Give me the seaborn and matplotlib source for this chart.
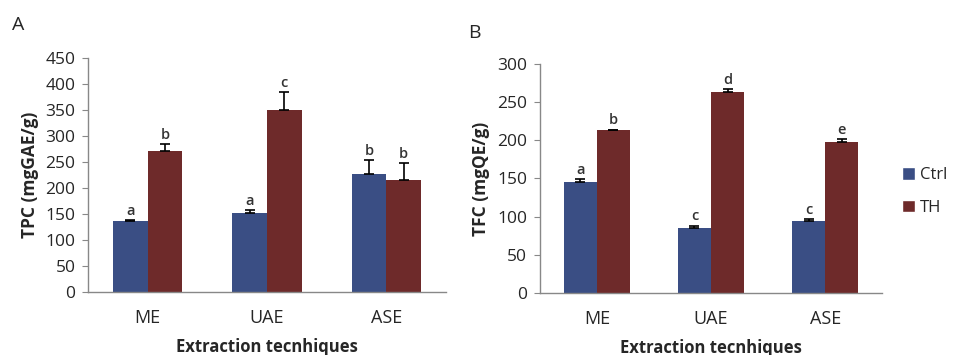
import pandas as pd
import matplotlib.pyplot as plt
import seaborn as sns
from matplotlib.patches import Patch

techniques = ["ME", "UAE", "ASE"]
groups = ["Ctrl", "TH"]

tpc_ctrl = [137, 153, 226]
tpc_th = [271, 350, 216]
tpc_ctrl_err = [1, 5, 28]
tpc_th_err = [13, 34, 32]
tpc_ctrl_letters = ["a", "a", "b"]
tpc_th_letters = ["b", "c", "b"]

tfc_ctrl = [145, 85, 94]
tfc_th = [213, 263, 198]
tfc_ctrl_err = [4, 3, 3]
tfc_th_err = [1, 4, 3]
tfc_ctrl_letters = ["a", "c", "c"]
tfc_th_letters = ["b", "d", "e"]

colors = {"Ctrl": "#3A4E84", "TH": "#6E2A2A"}

sns.set_style("white")
plt.rcParams['font.family'] = ['Open Sans', 'DejaVu Sans']


def make_df(ctrl, th, ctrl_err, th_err, ctrl_lab, th_lab):
    rows = []
    for i, t in enumerate(techniques):
        rows.append((t, "Ctrl", ctrl[i], ctrl_err[i], ctrl_lab[i]))
        rows.append((t, "TH", th[i], th_err[i], th_lab[i]))
    return pd.DataFrame(rows, columns=["technique", "group", "value", "err", "letter"])


def draw(ax, df, ymax, step, ylabel, pad):
    sns.barplot(data=df, x="technique", y="value", hue="group", order=techniques,
                hue_order=groups, palette=colors, width=0.58, errorbar=None,
                saturation=1, linewidth=0, ax=ax, legend=False, zorder=2)
    for cont, g in zip(ax.containers, groups):
        sub = df[df["group"] == g].set_index("technique").loc[techniques]
        xs = [b.get_x() + b.get_width() / 2 for b in cont]
        ax.errorbar(xs, sub["value"], yerr=[[0] * len(xs), sub["err"]], fmt="none",
                    ecolor="black", elinewidth=1.2, capsize=3.5, capthick=1.2, zorder=3)
        for x, v, e, l in zip(xs, sub["value"], sub["err"], sub["letter"]):
            ax.text(x, v + e + pad, l, ha="center", va="bottom", fontsize=10.5,
                    fontweight="semibold", color="#333333")
    ax.set_ylim(0, ymax)
    ax.set_yticks(range(0, ymax + 1, step))
    ax.set_xlim(-0.5, 2.5)
    ax.set_xticks([-0.5, 0.5, 1.5, 2.5], minor=True)
    ax.tick_params(axis="x", which="major", length=0, labelsize=13, pad=12)
    ax.tick_params(axis="x", which="minor", length=5, color="#888888")
    ax.tick_params(axis="y", length=4, color="#888888", labelsize=12.5, pad=5, left=True)
    for s in ["top", "right"]:
        ax.spines[s].set_visible(False)
    for s in ["left", "bottom"]:
        ax.spines[s].set_color("#888888")
        ax.spines[s].set_linewidth(1)
    ax.set_xlabel("Extraction tecnhiques", fontsize=12, fontweight="bold", labelpad=8)
    ax.set_ylabel(ylabel, fontsize=12.5, fontweight="bold", labelpad=5)


fig = plt.figure(figsize=(9.57, 3.55), dpi=100)
ax1 = fig.add_axes([0.092, 0.177, 0.374, 0.66])
ax2 = fig.add_axes([0.564, 0.175, 0.358, 0.645])

df_tpc = make_df(tpc_ctrl, tpc_th, tpc_ctrl_err, tpc_th_err, tpc_ctrl_letters, tpc_th_letters)
df_tfc = make_df(tfc_ctrl, tfc_th, tfc_ctrl_err, tfc_th_err, tfc_ctrl_letters, tfc_th_letters)

draw(ax1, df_tpc, 450, 50, "TPC (mgGAE/g)", 4)
draw(ax2, df_tfc, 300, 50, "TFC (mgQE/g)", 3)

fig.text(0.013, 0.915, "A", fontsize=14)
fig.text(0.489, 0.893, "B", fontsize=14)

handles = [Patch(facecolor=colors[g], label=g) for g in groups]
fig.legend(handles=handles, loc="center left", bbox_to_anchor=(0.943, 0.46),
           frameon=False, handlelength=0.75, handleheight=0.75, handletextpad=0.3,
           labelspacing=1.0, fontsize=12, borderpad=0, borderaxespad=0)

fig.savefig("out.png", dpi=100)
